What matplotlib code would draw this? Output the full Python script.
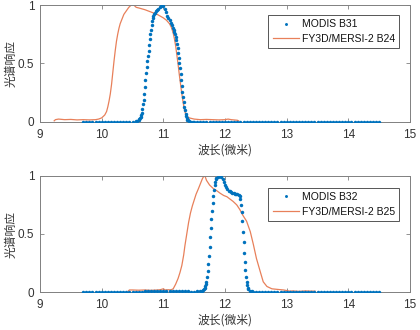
import matplotlib
matplotlib.use("Agg")
import matplotlib.pyplot as plt

# ---------------- data ----------------
# Top panel: MODIS B31 (dots) and FY3D/MERSI-2 B24 (line)
b31_x = [9.70, 9.75, 9.80, 9.85, 9.90, 9.95, 10.00, 10.05, 10.10, 10.15, 10.20, 10.25,
         10.30, 10.35, 10.40, 10.45, 10.50, 10.55, 10.58,
         10.60, 10.61, 10.62, 10.63, 10.64, 10.65, 10.66, 10.67, 10.68, 10.69, 10.70,
         10.71, 10.72, 10.73, 10.74, 10.75, 10.76, 10.77, 10.78, 10.79, 10.80,
         10.81, 10.82, 10.83, 10.84, 10.85, 10.86, 10.88, 10.90, 10.92, 10.94,
         10.96, 10.98, 11.00, 11.02, 11.04, 11.06, 11.08, 11.10, 11.12, 11.14,
         11.16, 11.17, 11.18, 11.19, 11.20, 11.21, 11.22, 11.23, 11.24, 11.25,
         11.26, 11.27, 11.28, 11.29, 11.30, 11.31, 11.32, 11.33, 11.34, 11.35,
         11.36, 11.37, 11.38, 11.39, 11.40, 11.42, 11.45, 11.48,
         11.50, 11.55, 11.60, 11.65, 11.70, 11.75, 11.80, 11.85, 11.90, 11.95,
         12.00, 12.05, 12.10, 12.15, 12.20, 12.25, 12.30, 12.35, 12.40, 12.45,
         12.50, 12.55, 12.60, 12.65, 12.70, 12.75, 12.80, 12.85, 12.90, 12.95,
         13.00, 13.05, 13.10, 13.15, 13.20, 13.25, 13.30, 13.35, 13.40, 13.45,
         13.50, 13.55, 13.60, 13.65, 13.70, 13.75, 13.80, 13.85, 13.90, 13.95,
         14.00, 14.05, 14.10, 14.15, 14.20, 14.25, 14.30, 14.35, 14.40, 14.45, 14.50]
b31_y = [0, 0, 0, 0, 0, 0, 0, 0, 0, 0, 0, 0,
         0, 0, 0, 0, 0.003, 0.006, 0.01,
         0.02, 0.025, 0.03, 0.045, 0.06, 0.08, 0.11, 0.15, 0.19, 0.24, 0.30,
         0.36, 0.42, 0.47, 0.52, 0.56, 0.61, 0.66, 0.71, 0.75, 0.79,
         0.83, 0.86, 0.89, 0.91, 0.92, 0.93, 0.95, 0.96, 0.97, 0.98,
         0.99, 1.00, 0.99, 0.97, 0.94, 0.91, 0.89, 0.87, 0.85, 0.83,
         0.80, 0.785, 0.77, 0.75, 0.73, 0.70, 0.67, 0.63, 0.59, 0.55,
         0.50, 0.46, 0.41, 0.36, 0.31, 0.26, 0.21, 0.17, 0.13, 0.10,
         0.07, 0.05, 0.03, 0.02, 0.015, 0.008, 0.004, 0.002,
         0, 0, 0, 0, 0, 0, 0, 0, 0, 0,
         0, 0, 0, 0, 0, 0, 0, 0, 0, 0,
         0, 0, 0, 0, 0, 0, 0, 0, 0, 0,
         0, 0, 0, 0, 0, 0, 0, 0, 0, 0,
         0, 0, 0, 0, 0, 0, 0, 0, 0, 0,
         0, 0, 0, 0, 0, 0, 0, 0, 0, 0, 0]

b24_x = [9.23, 9.25, 9.30, 9.40, 9.50, 9.60, 9.70, 9.80, 9.90, 9.95, 10.00, 10.05,
         10.08, 10.10, 10.12, 10.14, 10.16, 10.18, 10.20, 10.22, 10.24, 10.26, 10.28,
         10.30, 10.33, 10.36, 10.40, 10.44, 10.48, 10.52, 10.56, 10.60, 10.70, 10.80,
         10.90, 11.00, 11.05, 11.10, 11.13, 11.16, 11.18, 11.20, 11.22, 11.24, 11.26,
         11.28, 11.30, 11.32, 11.34, 11.36, 11.38, 11.42, 11.50, 11.60, 11.70, 11.80,
         11.90, 12.00, 12.05, 12.10, 12.20, 12.22]
b24_y = [0.01, 0.02, 0.025, 0.02, 0.022, 0.018, 0.02, 0.018, 0.02, 0.025, 0.035, 0.06,
         0.09, 0.13, 0.18, 0.24, 0.32, 0.42, 0.52, 0.61, 0.69, 0.75, 0.80,
         0.84, 0.88, 0.92, 0.95, 0.98, 1.00, 1.00, 0.98, 0.975, 0.96, 0.94,
         0.92, 0.89, 0.87, 0.84, 0.81, 0.76, 0.71, 0.65, 0.57, 0.49, 0.40,
         0.32, 0.24, 0.17, 0.11, 0.07, 0.05, 0.035, 0.025, 0.02, 0.022, 0.02,
         0.018, 0.02, 0.025, 0.02, 0.015, 0.01]

# Bottom panel: MODIS B32 (dots) and FY3D/MERSI-2 B25 (line)
b32_x = [9.70, 9.75, 9.80, 9.85, 9.90, 9.95, 10.00, 10.05, 10.10, 10.15, 10.20, 10.25,
         10.30, 10.35, 10.40, 10.45, 10.50, 10.55, 10.60, 10.65, 10.70, 10.75, 10.80,
         10.85, 10.90, 10.95, 11.00, 11.05, 11.10, 11.15, 11.20, 11.25, 11.30, 11.35,
         11.40, 11.45, 11.50, 11.55, 11.60,
         11.62, 11.64, 11.66, 11.67, 11.68, 11.69, 11.70, 11.71, 11.72, 11.73, 11.74,
         11.75, 11.76, 11.77, 11.78, 11.79, 11.80, 11.81, 11.82, 11.83, 11.84,
         11.85, 11.86, 11.88, 11.90, 11.92, 11.94, 11.96, 11.98, 12.00, 12.02,
         12.04, 12.06, 12.08, 12.10, 12.12, 12.14, 12.16, 12.18, 12.20, 12.22,
         12.24, 12.25, 12.26, 12.27, 12.28, 12.29, 12.30, 12.31, 12.32, 12.33,
         12.34, 12.35, 12.36, 12.37, 12.38, 12.40, 12.43, 12.46,
         12.50, 12.55, 12.60, 12.65, 12.70, 12.75, 12.80, 12.85, 12.90, 12.95,
         13.00, 13.05, 13.10, 13.15, 13.20, 13.25, 13.30, 13.35, 13.40, 13.45,
         13.50, 13.55, 13.60, 13.65, 13.70, 13.75, 13.80, 13.85, 13.90, 13.95,
         14.00, 14.05, 14.10, 14.15, 14.20, 14.25, 14.30, 14.35, 14.40, 14.45, 14.50]
b32_y = [0, 0, 0, 0, 0, 0, 0, 0, 0, 0, 0, 0,
         0.002, 0.002, 0.003, 0.003, 0.004, 0.004, 0.005, 0.006, 0.007, 0.008, 0.01,
         0.011, 0.012, 0.013, 0.013, 0.013, 0.013, 0.012, 0.012, 0.011, 0.01, 0.009,
         0.008, 0.006, 0.005, 0.007, 0.01,
         0.015, 0.02, 0.03, 0.04, 0.05, 0.07, 0.09, 0.13, 0.18, 0.24, 0.31,
         0.39, 0.47, 0.55, 0.63, 0.70, 0.77, 0.83, 0.88, 0.92, 0.95,
         0.97, 0.98, 0.99, 1.00, 1.00, 0.99, 0.975, 0.95, 0.92, 0.90,
         0.885, 0.87, 0.865, 0.86, 0.855, 0.85, 0.845, 0.84, 0.84, 0.835,
         0.83, 0.80, 0.75, 0.69, 0.61, 0.52, 0.43, 0.34, 0.26, 0.19,
         0.13, 0.09, 0.06, 0.04, 0.025, 0.015, 0.008, 0.005,
         0.003, 0.002, 0.002, 0.001, 0.001, 0, 0, 0, 0, 0,
         0, 0, 0, 0, 0, 0, 0, 0, 0, 0,
         0, 0, 0, 0, 0, 0, 0, 0, 0, 0,
         0, 0, 0, 0, 0, 0, 0, 0, 0, 0, 0]

b25_x = [10.43, 10.45, 10.50, 10.60, 10.70, 10.80, 10.90, 10.95, 11.00, 11.03, 11.08,
         11.12, 11.16, 11.20, 11.24, 11.27, 11.30, 11.33, 11.35, 11.38, 11.41, 11.44,
         11.47, 11.50, 11.53, 11.57, 11.60, 11.63, 11.66, 11.68, 11.70, 11.75, 11.81,
         11.87, 11.92, 11.98, 12.03, 12.08, 12.13, 12.19, 12.24, 12.29, 12.35, 12.41,
         12.46, 12.51, 12.57, 12.62, 12.68, 12.76, 12.85, 12.95, 13.00, 13.05, 13.10,
         13.20, 13.30, 13.40, 13.46]
b25_y = [0.01, 0.02, 0.02, 0.018, 0.02, 0.017, 0.02, 0.022, 0.03, 0.02, 0.022,
         0.02, 0.03, 0.07, 0.12, 0.17, 0.23, 0.32, 0.40, 0.50, 0.60, 0.68,
         0.74, 0.79, 0.84, 0.89, 0.93, 0.97, 1.00, 0.99, 0.96, 0.92, 0.89,
         0.87, 0.85, 0.83, 0.82, 0.80, 0.78, 0.75, 0.71, 0.66, 0.61, 0.52,
         0.41, 0.29, 0.18, 0.09, 0.05, 0.03, 0.025, 0.02, 0.015, 0.01, 0.012,
         0.008, 0.012, 0.01, 0.01]

x_ticks = [9, 10, 11, 12, 13, 14, 15]
y_ticks = [0, 0.5, 1]
y_tick_labels = ["0", "0.5", "1"]
xlabel = "波长(微米)"
ylabel = "光谱响应"

panels = [
    (b31_x, b31_y, "MODIS B31", b24_x, b24_y, "FY3D/MERSI-2 B24"),
    (b32_x, b32_y, "MODIS B32", b25_x, b25_y, "FY3D/MERSI-2 B25"),
]

# ---------------- style ----------------
BLUE = "#0072BD"
ORANGE = "#E8805A"
TXT = "#333333"
SPINE = "#808080"
plt.rcParams["font.family"] = ["Liberation Sans", "Noto Sans CJK SC", "DejaVu Sans"]
cjk = ["Noto Sans CJK SC", "DejaVu Sans"]

fig = plt.figure(figsize=(4.2, 3.3), dpi=100)
W, H = 420.0, 330.0
rects = [
    [40 / W, 1 - 122 / H, 370 / W, 117 / H],
    [40 / W, 1 - 292.3 / H, 370 / W, 116.6 / H],
]
leg_y = [1 - 10 / 117, 1 - 12 / 116.6]

for rect, ly, (dx, dy, dlab, lx, lyv, llab) in zip(rects, leg_y, panels):
    ax = fig.add_axes(rect)
    ax.plot(dx, dy, linestyle="none", marker="o", markersize=2.5,
            markeredgewidth=0, color=BLUE, label=dlab, zorder=3)
    ax.plot(lx, lyv, color=ORANGE, linewidth=0.9, label=llab, zorder=2)
    ax.set_xlim(9, 15)
    ax.set_ylim(0, 1)
    ax.set_xticks(x_ticks)
    ax.set_yticks(y_ticks)
    ax.set_yticklabels(y_tick_labels)
    ax.tick_params(direction="in", top=True, right=True, length=3, width=0.6,
                   labelsize=8.5, colors=SPINE, labelcolor=TXT)
    ax.tick_params(axis="x", pad=5)
    ax.tick_params(axis="y", pad=4)
    for s in ax.spines.values():
        s.set_color(SPINE)
        s.set_linewidth(0.7)
    ax.set_xlabel(xlabel, family=cjk, fontsize=8.5, color=TXT, labelpad=2)
    ax.set_ylabel(ylabel, family=cjk, fontsize=8.5, color=TXT, labelpad=0)
    leg = ax.legend(loc="upper right", bbox_to_anchor=(1 - 11 / 370, ly),
                    borderaxespad=0, fancybox=False, framealpha=1,
                    edgecolor="#555555", fontsize=7.5, handlelength=2.5,
                    handletextpad=0.3, borderpad=0.4, labelspacing=0.45,
                    markerscale=0.85)
    leg.get_frame().set_linewidth(0.7)
    for t in leg.get_texts():
        t.set_color("#111111")

fig.savefig("out.png", dpi=100)
